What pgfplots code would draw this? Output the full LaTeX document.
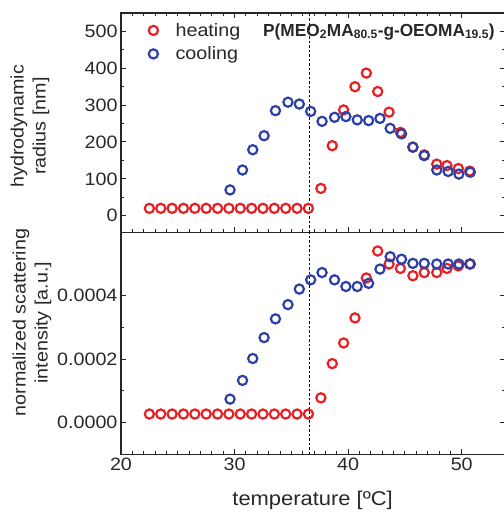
\documentclass[border=0pt]{standalone}
\usepackage{fontspec}
\setmainfont{Liberation Sans}[FakeStretch=1.1]
\usepackage{pgfplots}
\pgfplotsset{compat=1.18}
\definecolor{hred}{RGB}{232,32,36}
\definecolor{cblue}{RGB}{44,64,165}
\definecolor{txt}{RGB}{40,40,40}

\pgfplotstableread{
x y
22.5 20
23.5 20
24.5 20
25.5 20
26.5 20
27.5 20
28.5 20
29.5 20
30.5 20
31.5 20
32.5 20
33.5 20
34.5 20
35.5 20
36.5 20
37.6 74
38.6 190
39.6 287
40.6 350
41.6 387
42.6 337
43.6 281
44.6 226
45.7 186
46.7 165
47.8 140
48.7 136
49.7 128
50.7 121
}\heatR
\pgfplotstableread{
x y
29.6 70
30.7 124
31.6 179
32.6 217
33.6 285
34.7 308
35.7 303
36.7 283
37.7 256
38.8 267
39.8 269
40.8 260
41.8 258
42.8 264
43.7 237
44.7 222
45.7 186
46.7 163
47.8 124
48.8 120
49.75 113
50.75 118
}\coolR
\pgfplotstableread{
x y
22.5 0.000027
23.5 0.000027
24.5 0.000027
25.5 0.000027
26.5 0.000027
27.5 0.000027
28.5 0.000027
29.5 0.000027
30.5 0.000027
31.5 0.000027
32.5 0.000027
33.5 0.000027
34.5 0.000027
35.5 0.000027
36.5 0.000027
37.6 0.000078
38.6 0.000186
39.6 0.000251
40.6 0.000330
41.6 0.000456
42.6 0.000541
43.6 0.000500
44.6 0.000486
45.7 0.000463
46.7 0.000473
47.8 0.000473
48.7 0.000486
49.7 0.000494
50.7 0.000500
}\heatI
\pgfplotstableread{
x y
29.6 0.000074
30.7 0.000133
31.6 0.000202
32.6 0.000268
33.6 0.000327
34.7 0.000372
35.7 0.000421
36.7 0.000450
37.7 0.000473
38.8 0.000450
39.8 0.000429
40.8 0.000429
41.8 0.000439
42.8 0.000484
43.7 0.000523
44.7 0.000515
45.7 0.000502
46.7 0.000502
47.8 0.000500
48.8 0.000500
49.75 0.000500
50.75 0.000500
}\coolI

\begin{document}
\begin{tikzpicture}
\useasboundingbox (-121bp,-58.7bp) rectangle (383bp,454.3bp);
\pgfplotsset{
 every axis/.append style={
  scale only axis, width=383.9bp, xmin=20, xmax=53.8,
  axis line style={line width=1.3bp, black!85},
  tick style={line width=1bp, black!85},
  major tick length=5bp, minor tick length=3bp,
  tick align=inside,
  xtick={20,30,40,50}, minor x tick num=9,
  /pgf/number format/assume math mode=true,
  tick label style={font=\fontsize{18}{20}\selectfont, text=txt},
  label style={font=\fontsize{18}{22}\selectfont, text=txt},
 },
 hmark/.style={only marks, mark=o, mark size=4.6bp, mark options={line width=2.2bp, draw=hred}, hred},
 cmark/.style={only marks, mark=o, mark size=4.6bp, mark options={line width=2.2bp, draw=cblue}, cblue},
}
\begin{axis}[at={(0bp,222bp)}, anchor=south west, height=219.3bp,
  ymin=-45, ymax=550, ytick={0,100,...,500}, minor y tick num=1,
  xticklabels={},
  ylabel={hydrodynamic\\radius [nm]},
  ylabel style={align=center, at={(axis description cs:-0.237,0.484)}, anchor=center},
  legend style={at={(axis description cs:0.0,1.0)}, anchor=north west, yshift=-5bp, draw=none, fill=none,
    font=\fontsize{18}{20}\selectfont, text=txt, row sep=5bp, inner xsep=4bp, inner ysep=3bp},
  legend cell align=left,
  legend image code/.code={\path (0bp,-6bp) (48bp,6bp); \draw[#1] plot coordinates {(28bp,0bp)};},
]
\addplot[hmark] table {\heatR};
\addlegendentry{heating}
\addplot[cmark] table {\coolR};
\addlegendentry{cooling}
\draw[line width=1bp, dash pattern=on 2.5bp off 2bp] (axis cs:36.6,-45) -- (axis cs:36.6,550);
\node[anchor=base east, font=\bfseries\fontsize{17.5}{17.5}\selectfont, text=txt, inner sep=0pt]
  at (axis description cs:0.974,0.895) {\scalebox{0.9}[1]{P(MEO\textsubscript{2}MA\textsubscript{80.5}-g-OEOMA\textsubscript{19.5})}};
\end{axis}
\begin{axis}[at={(0bp,0bp)}, anchor=south west, height=222bp,
  ymin=-0.0001, ymax=0.0006, ytick={0,0.0002,0.0004}, minor y tick num=1,
  scaled y ticks=false, xtick pos=left,
  yticklabel style={/pgf/number format/.cd, fixed, fixed zerofill, precision=4},
  xlabel={temperature [ºC]},
  xlabel style={font=\fontsize{20}{22}\selectfont, at={(axis description cs:0.499,-0.206)}, anchor=center},
  ylabel={normalized scattering\\intensity [a.u.]},
  ylabel style={align=center, at={(axis description cs:-0.232,0.593)}, anchor=center},
]
\addplot[hmark] table {\heatI};
\addplot[cmark] table {\coolI};
\draw[line width=1bp, dash pattern=on 2.5bp off 2bp] (axis cs:36.6,-0.0001) -- (axis cs:36.6,0.0006);
\end{axis}
\end{tikzpicture}
\end{document}
